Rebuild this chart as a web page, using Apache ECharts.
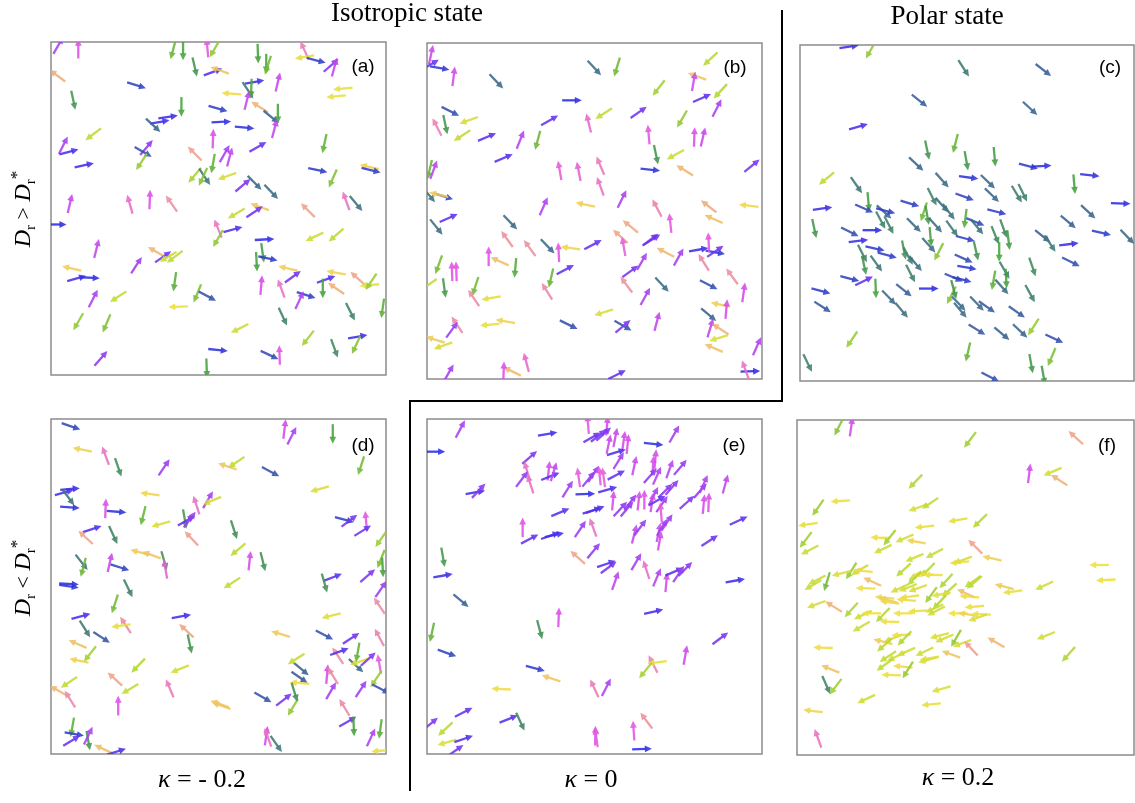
<!DOCTYPE html>
<html><head><meta charset="utf-8">
<script src="https://cdn.jsdelivr.net/npm/echarts/dist/echarts.min.js"></script>
<style>html,body{margin:0;padding:0;background:#fff}#c{width:1135px;height:803px}</style>
</head><body><div id="c"></div>
<script>
// Each arrow: [x, y (measured from top), direction angle in degrees, counter-clockwise from east]
const panelA = [[3,1.5,60],[9,2.5,90],[37.5,2.8,255],[40.5,3,270],[47.8,2.2,95],[50,2.5,240],[44,8,283],[49.5,9.5,20],[51.5,9,160],[2.7,10.6,143],[26.5,13.5,343],[7.5,18,282],[63,4,272],[65.5,7,270],[66,7.5,252],[77,3,115],[77,5,190],[80.5,6,345],[85,7.5,41],[86,8,75],[62,12.5,10],[60,15,303],[61,14.5,268],[59.7,18,76],[69,12.5,77],[55,16,176],[88.5,14.5,185],[86.5,16.8,185],[40,20,270],[51,20.5,344],[63.5,20,148],[67,23,321],[69,22,270],[36,23,8],[33.5,24.5,10],[31.5,25.5,317],[52,24.5,3],[59,26.2,355],[68,26.5,75],[49.5,29.5,88],[13.5,28.2,217],[4.5,31.5,63],[6.2,33.5,15],[83,31,258],[63,32,30],[29.5,32.2,50],[28.5,33.5,330],[28,36.5,237],[44,34,135],[53,34,60],[54.5,35,75],[10.8,37.5,12],[49.5,37,260],[44,40.5,230],[47,41,304],[46.5,41,245],[53.7,40.8,200],[58.5,43.5,40],[62,42.8,315],[67,45.5,314],[81,39,348],[96.5,38,167],[97,39,346],[85.5,41.5,246],[6.5,49,77],[24.5,49.2,106],[30.5,47.8,88],[37,49,125],[89.5,48.2,110],[92.5,49,310],[63.5,50,160],[62,51.5,34],[56.5,52,210],[78,51,135],[2.5,55.3,0],[51,56.5,112],[55.5,56.8,15],[51,59.5,240],[65,59.8,3],[80,59,205],[86.5,58.5,221],[14.5,62.5,76],[32.5,63.5,150],[34.5,65,35],[36,65,210],[38,65,217],[26.5,67.5,57],[7,68.5,167],[64.4,63.8,278],[62.6,66.5,273],[66,65.5,348],[72,68.5,167],[73.5,71,36],[86.5,69.8,170],[93,71.5,138],[83.5,71.8,20],[86.5,74.5,145],[82.5,74.5,270],[96.5,73.5,185],[97,72.5,236],[8.5,71.5,16],[12.5,71.3,357],[64,73.5,85],[70,74.5,110],[77.5,76.5,343],[75.5,78,65],[13.5,77.5,63],[21,77,213],[38,72.5,262],[44.8,76,248],[47.8,76.8,332],[39,80,182],[70.5,83,295],[90.8,81.5,297],[100.5,80.5,262],[9,84.5,240],[17.5,85,247],[57.5,86.5,207],[78,89.5,232],[93,89,10],[92.5,91.5,245],[86,92.5,290],[51,93,354],[66.5,94.5,335],[69.5,94.5,92],[15.8,95.5,49],[47.6,98.5,272]];

const panelB = [[2.2,4.5,78],[4.8,8.5,350],[2,7.5,30],[9,11,83],[21.8,12.5,314],[51.2,8.5,313],[58,8.2,253],[86,5.8,223],[82,11,160],[81,12.5,80],[70.5,14.5,232],[83.5,17.5,24],[89,15.5,227],[88,20.5,63],[44.5,18.2,0],[8,21.5,333],[6.5,25.5,282],[4,26.2,117],[13.5,24.2,200],[11.5,28.8,213],[19,29.2,23],[29,30,68],[34.2,30.2,255],[37.8,24.2,30],[49.5,25,104],[54,22.2,213],[64.5,21.8,35],[77.5,23.8,240],[67.5,28.5,95],[81.2,29.2,88],[83.8,29.2,77],[24,35.5,23],[69.7,34.5,282],[75.5,34.5,209],[68,39,354],[78.3,39.2,149],[98.5,37.8,39],[1.8,39,257],[3,39,70],[40.8,39.2,100],[46.5,39.5,101],[53,37.8,113],[53,44,110],[6,47,342],[4.5,46.5,166],[1.5,46.5,310],[48.5,49.5,168],[59.5,47.8,64],[36,50,66],[70,50.5,118],[74,55,96],[85.5,50,142],[87,53.8,156],[97.5,49.8,173],[7.5,53.5,24],[3.8,56.2,309],[26,54.8,314],[62,56,141],[59,59,138],[60,62,100],[68,60,37],[68.5,60,32],[25,59.8,126],[31.8,62.5,126],[37.2,62,314],[40.5,63.8,93],[44,62.5,172],[50.8,61.5,28],[72.5,63.8,153],[76.5,65.2,61],[82.5,63,10],[87.5,63.8,350],[87.5,63.5,34],[85.5,60.8,93],[84,66.8,122],[19.5,65,90],[22.8,66.5,156],[27.5,68.5,265],[4.5,67.5,250],[8.5,69.5,92],[9.8,69.5,92],[42.5,69,28],[38.2,71.5,257],[62,69.5,36],[65.5,66.5,60],[60.8,73.5,127],[92.5,71,126],[71.5,73.5,313],[85.5,73.5,333],[96,75.8,82],[1.5,73.5,215],[6.2,74.5,278],[15.5,74,252],[15,77.5,124],[20.2,77.5,190],[37,75.5,122],[66.5,77,61],[89,79.5,168],[90.8,80.8,85],[85.5,82.5,320],[54,81.8,198],[43.5,85.5,334],[59.8,85.8,330],[59.8,86,40],[70,84.5,75],[86,86.5,73],[89,86.8,147],[88.5,89.5,197],[10,85.5,124],[8.5,87,54],[19.8,85.5,185],[24.5,84.5,170],[3.5,90,163],[5.8,91.8,200],[87,92.5,157],[100,92,66],[30.8,96.8,105],[26.5,99.5,154],[24,99.5,88],[7.5,100,60],[58,100.5,26],[98,99.5,2],[96.5,99,110]];

const panelC = [[16,2,8],[22.5,3,240],[50.5,8.5,303],[74.5,9,322],[37.2,18.2,322],[70.5,20.5,317],[18.8,26,16],[48,31,256],[39.5,33,282],[51.3,36.2,280],[59.8,35,275],[36.2,37.2,317],[70,37.8,345],[74,37.8,3],[9.2,41.5,219],[88.5,40.5,354],[52,41.2,352],[44,42,312],[57.8,42.5,316],[83.8,43.2,275],[18.2,43.5,305],[59,46.5,316],[66.5,46.2,301],[68.3,45.8,296],[50.8,47,340],[41,47,297],[44,49.5,312],[97.8,49,358],[8,50.5,8],[21.8,48.5,275],[20.5,50.5,336],[26.5,51.5,318],[27,51.2,346],[34.3,49,343],[38.5,51.5,252],[39.5,52.5,280],[46,51.5,307],[60.5,51.5,346],[51,53.5,263],[25.5,54,298],[28,55.5,297],[88,51.5,317],[82,54.5,320],[5.5,56.5,282],[16.2,57.5,333],[23,57,0],[35.5,55.5,315],[42,55.5,312],[47,56.5,306],[54,54.5,338],[54.5,56,310],[60,58.5,292],[62.5,56.5,290],[64,60,277],[40.5,59,275],[40,61.5,312],[43,63.5,243],[51,59.5,345],[74.3,58.8,321],[76.5,61,304],[92,57.8,347],[99.8,59,314],[18.8,60.2,7],[23.8,62.5,348],[27.5,64.5,345],[20,64,297],[20.5,67.5,282],[32.5,63,281],[33.8,64.8,298],[36,67,310],[82.2,61.2,7],[54.2,63.2,283],[61.2,63.5,270],[50.5,65.5,336],[24.2,67,306],[82.8,66.5,334],[71.2,68,289],[51.5,68.2,350],[62.8,69,300],[16.2,71.5,345],[20.5,72.2,26],[34.5,70,297],[47.5,71.2,337],[50,71.8,346],[59.5,72,260],[63.3,71.5,273],[62,74,312],[24,74.5,272],[40,74.5,0],[7.5,75.2,345],[32.5,75,322],[46.8,76.5,243],[47.5,74.8,285],[70.5,76,299],[28,77.2,314],[8,80,327],[49,79,314],[49.5,81,310],[54.5,79,314],[57.5,80,325],[31.8,81,310],[66.5,81.5,325],[54.5,86.8,328],[62,88,320],[67.5,87.2,317],[71.5,86,237],[77.8,89.5,335],[16.8,89.8,236],[51.8,93.5,257],[77,95,247],[70.8,97,280],[74.5,100.5,280],[3.5,96.8,296],[58.5,101,333]];

const panelD = [[6.8,4.2,341],[10.2,11.2,168],[17.2,13,110],[21,16.5,289],[34.8,16.5,56],[71,5,83],[73.2,7,63],[85.5,6.5,270],[94,16,252],[53.8,16.2,161],[56.5,15,214],[66.8,17.8,332],[81.5,23,196],[4.8,24,16],[6.5,23,5],[6,25.5,307],[6.5,28.5,356],[30.5,24.5,172],[17.2,28.8,88],[20.5,29.8,355],[28.5,31,256],[33.8,33.5,196],[48,26.2,60],[44.5,27.8,108],[49.2,26.5,203],[41,32,280],[41.5,32.5,30],[42.5,32.2,53],[13.2,35,18],[11.2,37.5,137],[19.5,36.8,295],[43,37.8,133],[55.8,35.2,288],[89,32.2,345],[90.5,32.5,37],[95.5,32.5,95],[94.5,35.5,32],[100,38,235],[57,41.2,220],[60.5,44.5,84],[64.5,44.8,284],[27.5,42,165],[31,42.8,160],[34.8,44.5,286],[35.2,47,100],[10,45,308],[10.5,46.5,255],[18.5,45,77],[21.5,46.5,342],[100,44,248],[100.5,46.5,273],[6.2,51.5,357],[6.2,52.2,352],[24,52.8,296],[55.2,51.2,213],[85.5,49.5,21],[83,51.2,286],[96,49,41],[100,53,55],[20,57.5,252],[9.8,61.2,15],[11,65,302],[23.2,63.8,123],[21.8,64,188],[16,67.5,327],[40,61.2,10],[41.5,65.5,137],[42.5,69.5,282],[85,61,194],[99.5,58,124],[69.8,66.5,163],[83,66.8,332],[91,67.8,33],[99.5,67.5,118],[8.8,69.5,157],[12.5,72.5,232],[9.2,74.5,168],[27,76,226],[39.5,77,202],[20,80,138],[6.2,81,214],[3,83.5,151],[6.5,86,122],[24.5,83,211],[36.5,82.8,113],[21,88,90],[51.5,87.5,160],[52,88,160],[64.5,85.5,330],[70.8,86.2,38],[73.5,88.5,239],[76,77,320],[75.5,79.5,325],[74.5,74,212],[75.5,81.2,175],[74,84,287],[83.8,78.5,85],[85.5,79,122],[87,73,124],[87.5,71.8,20],[85,83.5,60],[92.5,76,317],[93.5,74.8,198],[93,72,260],[96.2,74,42],[99.5,75.5,100],[98.5,80,236],[100,83,333],[94,83,57],[89,88.5,121],[90,92.8,30],[91.8,94.2,272],[97,97.5,65],[99.8,95,262],[65.5,97,82],[66,97.5,110],[68.5,99.5,305],[7.2,94.5,260],[7.8,96.5,350],[7,98.5,31],[12,98.5,280],[12,97,64],[16.5,101,155],[20.5,101.8,18],[100,101.5,185]];

const panelE = [[11,5,62],[3.5,11.8,0],[37.2,6.5,10],[69,9.5,354],[75.2,6.5,60],[49.3,3.5,95],[55,4,85],[50.5,7.5,30],[52.5,7,38],[54,6.5,42],[55.5,9.5,78],[57.5,7.5,79],[60,8.5,82],[61.2,9.5,84],[57.8,12,17],[58.5,14.5,58],[63.2,16,78],[69.5,14,85],[68.8,16,86],[73.8,17,70],[77,16.5,50],[31.8,13.5,41],[31,17.5,107],[32,21.5,108],[29.5,20,53],[37.5,17.5,84],[38,19.2,22],[39,17.8,73],[46.5,19.5,98],[43.2,23,58],[49.5,20,51],[51,18.5,56],[54,19.5,98],[52.8,19,96],[57.8,18.8,28],[48.5,24.5,2],[55.2,23.2,16],[15.5,24,10],[16.5,23.5,47],[56.8,26.5,85],[61,29,50],[62,27,52],[64.5,26.5,84],[66.2,26.2,90],[68,19,49],[70,19,66],[69,25,63],[68.5,27,82],[71.5,27.5,55],[71.2,30,95],[72.5,23.5,45],[74.5,22.5,49],[70,26.5,30],[79,27,42],[83,23.5,49],[84,21.5,66],[84,27.5,85],[85.5,27,88],[90.5,21.5,75],[94.5,32.5,25],[41,30,23],[50.5,29.5,18],[51.5,29.2,20],[59,29,47],[29.7,34.5,90],[31.8,38,28],[38,37,20],[39.2,36.8,12],[47,35,56],[50.8,34.5,110],[63.2,36.5,76],[65,34.5,53],[70.5,36,78],[71.5,34.5,59],[73,33,56],[70.8,38.5,80],[85.8,38.5,33],[46.2,43.5,138],[51,41.5,50],[54.8,45.5,19],[55.5,46.5,37],[63.8,44.8,60],[66.8,47.2,108],[57.5,50.5,71],[70,49.5,67],[72.8,51,85],[75.2,47.8,24],[76.5,48.5,56],[78.5,47,46],[93.5,50.5,10],[5.8,43.5,280],[5.8,49,10],[11.2,56.5,320],[40.5,61.5,88],[69,59.8,13],[34.8,65.2,285],[2.5,66,258],[7,72.2,340],[89,67.8,37],[78.5,72.8,80],[33.5,76.8,345],[38.2,79.8,162],[23.2,83,177],[51.2,82.8,115],[54.8,82.5,63],[68.8,75.5,117],[70,75,187],[66.5,77.5,231],[66.8,92.5,127],[63,95.5,94],[51.5,97,89],[51.8,97.5,98],[65.5,101,2],[12,90,27],[25.5,92,22],[29,92.8,295],[6.5,95,223],[7,99,196],[12,98,19],[2,93.5,40],[9.5,101.5,35]];

const panelF = [[13.8,4.5,243],[17.5,4.5,82],[53.2,8.5,233],[85,7.8,138],[71,18.5,83],[78,18,203],[80,20.5,147],[36.8,21,226],[14.2,26.8,184],[7.5,28.8,235],[37.5,28.8,200],[41.2,27.5,214],[4.5,33.8,188],[49.5,32.5,190],[56.2,32.8,224],[39.5,34.5,186],[3.8,38.5,233],[5,41.5,208],[26.2,37.8,178],[29,37.8,232],[33.5,38,203],[37,39,170],[27,41.2,205],[54.8,40.5,135],[59.8,44,167],[36.5,43.8,203],[42.5,42.5,208],[51,44.5,200],[50,45.2,185],[92,46,180],[94,50.5,183],[33.2,47.5,222],[40.5,47.5,225],[17.5,47.8,238],[20,47.5,210],[21,47.8,175],[14.5,48.5,195],[7.2,50.5,208],[6,52,210],[10.2,51,253],[23.8,51,155],[21.8,53,178],[37.5,49,205],[39.2,48.8,178],[42,49,180],[36.5,50,225],[46,50.8,228],[54,51,215],[54.5,51.2,220],[63.5,52.5,165],[66,54,187],[75.5,52.2,205],[32,53,205],[34.5,52.8,202],[37.5,53,200],[41.5,55,234],[47,53.5,222],[44.5,54.8,190],[52,54.5,155],[53,55.5,176],[27.5,55.8,175],[28.5,56.5,165],[29,57.2,172],[35,55.5,187],[34,56.5,175],[44,57.2,227],[42.5,59,205],[7,57.8,200],[12.2,58.5,148],[17.5,59.5,228],[54.5,58.5,185],[21,61,205],[23.5,60.5,180],[27,61,226],[33,60.5,180],[37.5,59.8,183],[43,59.8,207],[49.5,60.5,180],[52.5,60.8,170],[56.5,60.8,178],[55.5,61.8,200],[20.5,64.5,210],[29,63,178],[30,68,202],[32.5,67,183],[27,69,165],[27.5,70,222],[33.5,68,226],[44,67.2,195],[45.5,68,203],[49,68,240],[50.8,69.5,200],[53.5,71,133],[61,69.2,150],[76,67.2,202],[9,70.8,178],[28.5,73.5,213],[31,73.5,205],[34,72,203],[39.5,72,205],[47.5,72.8,160],[41,74,190],[40.5,74.5,195],[27.5,76,216],[82.8,72.8,228],[33,76.5,175],[29.5,79,178],[34.5,77.5,238],[11.2,77.2,158],[10,82,294],[12.8,82.5,233],[44.5,83.2,196],[22,86.2,205],[41.5,87.8,185],[6,89.8,173],[7.5,98,110]];

const panelLabels = ['(a)', '(b)', '(c)', '(d)', '(e)', '(f)'];
const kappaLabels = ['- 0.2', '0', '0.2'];
const stateTitles = ['Isotropic state', 'Polar state'];

// cyclic orientation colour map (0..360 degrees)
const ANGLE_COLORS = ['#2b2be6', '#8636f2', '#e04ee9', '#efa08c', '#efe03c', '#b4d830', '#46a43a', '#3a6888', '#2b2be6'];
const ARROW_LEN = 5.9;

const panels = [
  {data: panelA, box: [51, 42, 335, 333], xr: [0.8, 101.5], yr: [0.5, 100.5], lab: [363, 67]},
  {data: panelB, box: [427, 43, 335, 336], xr: [1.0, 101.5], yr: [1.0, 101.8], lab: [735, 68]},
  {data: panelC, box: [800, 45, 334, 336], xr: [1.2, 101.8], yr: [1.5, 102.2], lab: [1110, 68]},
  {data: panelD, box: [51, 419, 335, 335], xr: [0.8, 101.5], yr: [2.0, 102.5], lab: [363, 446]},
  {data: panelE, box: [427, 419, 335, 335], xr: [1.0, 101.5], yr: [2.0, 102.5], lab: [734, 446]},
  {data: panelF, box: [797, 420, 337, 335], xr: [1.2, 102.5], yr: [2.5, 103.0], lab: [1107, 446]}
];

function renderArrow(params, api) {
  const p = api.coord([api.value(0), api.value(1)]);
  const a = api.value(2) * Math.PI / 180;
  const L = Math.abs(api.size([ARROW_LEN, 0])[0]);
  const ux = Math.cos(a), uy = -Math.sin(a);
  const tip = [p[0] + ux * L / 2, p[1] + uy * L / 2];
  const tail = [p[0] - ux * L / 2, p[1] - uy * L / 2];
  const hl = 7, hw = 3.4;
  const base = [tip[0] - ux * hl, tip[1] - uy * hl];
  const nx = -uy, ny = ux;
  const color = api.visual('color');
  return {
    type: 'group',
    children: [
      {type: 'line', shape: {x1: tail[0], y1: tail[1], x2: base[0] + ux, y2: base[1] + uy},
       style: {stroke: color, lineWidth: 2.3, opacity: 0.88}},
      {type: 'polygon', shape: {points: [tip, [base[0] + nx * hw, base[1] + ny * hw], [base[0] - nx * hw, base[1] - ny * hw]]},
       style: {fill: color, opacity: 0.88}}
    ]
  };
}

const SERIF = '"Liberation Serif", "DejaVu Serif", serif';
const SANS = '"Liberation Sans", Arial, sans-serif';

const grid = [], xAxis = [], yAxis = [], series = [];
panels.forEach((pn, i) => {
  grid.push({left: pn.box[0], top: pn.box[1], width: pn.box[2], height: pn.box[3],
             show: true, borderColor: '#8c8c8c', borderWidth: 1.5, backgroundColor: 'transparent'});
  xAxis.push({type: 'value', gridIndex: i, min: pn.xr[0], max: pn.xr[1], show: false});
  yAxis.push({type: 'value', gridIndex: i, min: pn.yr[0], max: pn.yr[1], inverse: true, show: false});
  series.push({type: 'custom', xAxisIndex: i, yAxisIndex: i, clip: true, renderItem: renderArrow,
               encode: {x: 0, y: 1}, data: pn.data, silent: true});
});

const graphic = [];
panels.forEach((pn, i) => {
  graphic.push({type: 'text', x: pn.lab[0], y: pn.lab[1], z: 100,
    style: {text: panelLabels[i], font: '19px ' + SANS, fill: '#000', align: 'center', verticalAlign: 'middle'}});
});
graphic.push({type: 'text', x: 407, y: 14, style: {text: stateTitles[0], font: '27px ' + SERIF, fill: '#000', align: 'center', verticalAlign: 'middle'}});
graphic.push({type: 'text', x: 947, y: 17, style: {text: stateTitles[1], font: '27px ' + SERIF, fill: '#000', align: 'center', verticalAlign: 'middle'}});

const kx = [202, 591, 958], ky = [780, 780, 778];
kappaLabels.forEach((k, i) => {
  graphic.push({type: 'text', x: kx[i], y: ky[i], style: {
    text: '{k|κ} = ' + k, font: '26px ' + SERIF, fill: '#000', align: 'center', verticalAlign: 'middle',
    rich: {k: {fontStyle: 'italic', fontFamily: SERIF, fontSize: 26}}}});
});

const richY = {
  d: {fontStyle: 'italic', fontFamily: SERIF, fontSize: 24, lineHeight: 30, verticalAlign: 'middle'},
  s: {fontFamily: SERIF, fontSize: 15, lineHeight: 30, verticalAlign: 'bottom'},
  p: {fontFamily: SERIF, fontSize: 17, lineHeight: 30, verticalAlign: 'top'},
  o: {fontFamily: SERIF, fontSize: 22, lineHeight: 30, verticalAlign: 'middle'}
};
[['>', 209], ['<', 578]].forEach(([op, cy]) => {
  graphic.push({type: 'text', x: 24, y: cy, rotation: Math.PI / 2, style: {
    text: '{d|D}{s|r}{o| ' + op + ' }{d|D}{s|r}{p|*}', fill: '#000', align: 'center', verticalAlign: 'middle', rich: richY}});
});

// separator lines
graphic.push({type: 'polyline', shape: {points: [[782, 10], [782, 401], [410, 401], [410, 791]]},
  style: {stroke: '#000', lineWidth: 2, fill: null}});

const chart = echarts.init(document.getElementById('c'), null, {renderer: 'canvas'});
chart.setOption({
  animation: false,
  backgroundColor: '#fff',
  grid, xAxis, yAxis, series, graphic,
  visualMap: {type: 'continuous', show: false, dimension: 2, min: 0, max: 360,
              seriesIndex: [0, 1, 2, 3, 4, 5], inRange: {color: ANGLE_COLORS}}
});
</script></body></html>
